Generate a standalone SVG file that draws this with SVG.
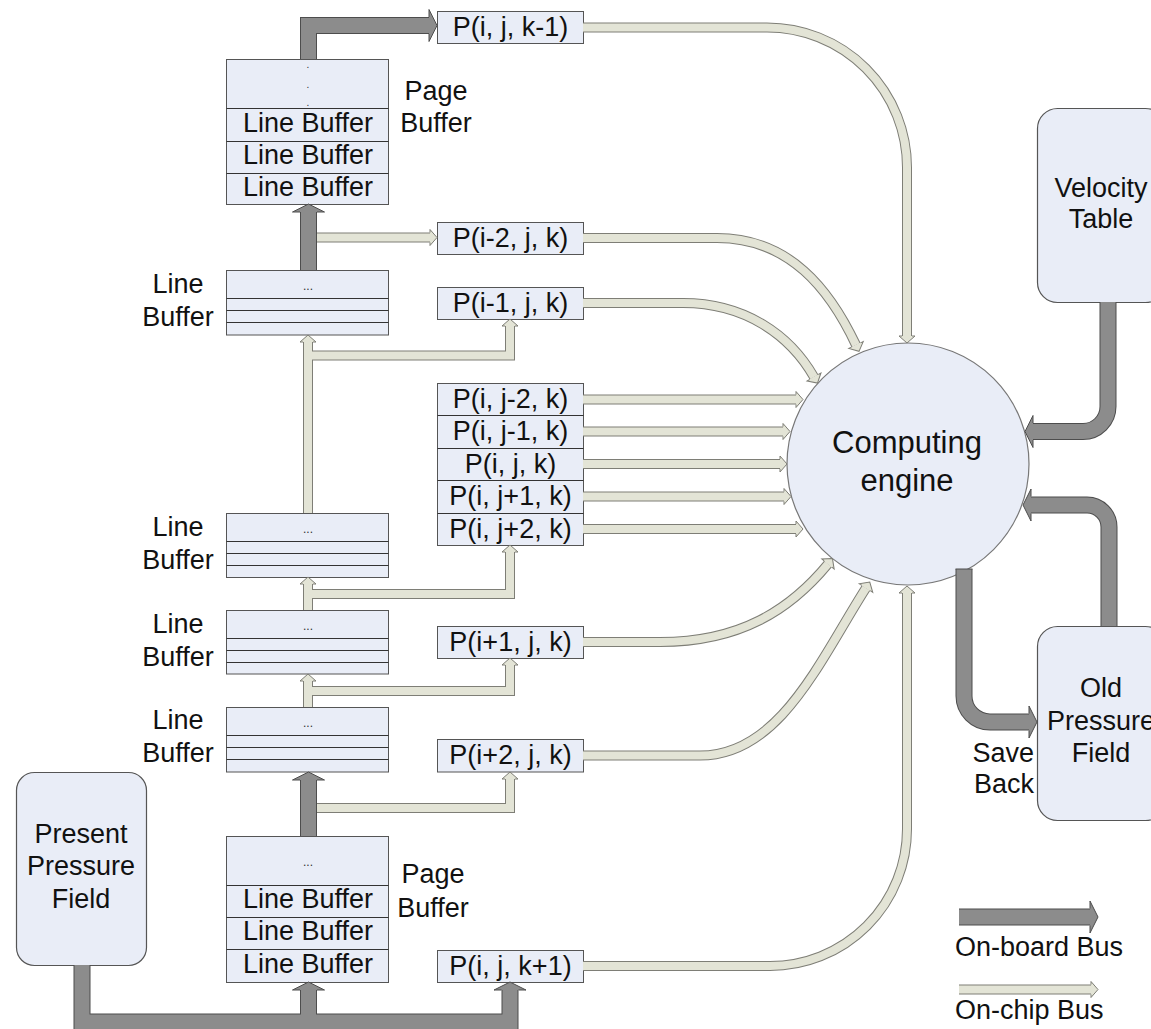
<svg xmlns="http://www.w3.org/2000/svg" xmlns:xlink="http://www.w3.org/1999/xlink" width="1151" height="1029" viewBox="0 0 1151 1029">
  <style>
    text { font-family: "Liberation Sans", Arial, sans-serif; font-size: 27px; fill: #111; }
    .mid { text-anchor: middle; }
    .end { text-anchor: end; }
    .big { font-size: 31px; }
    .tiny { font-size: 12px; fill: #333; }
    .dot { font-size: 10px; fill: #333; }
    .box { fill: #e9edf7; stroke: #555; stroke-width: 1; }
    .div { stroke: #333; stroke-width: 1; }
    .store { fill: #e9edf7; stroke: #555; stroke-width: 1.2; }
    .engine { fill: #e9edf7; stroke: #777; stroke-width: 1.2; }
    .chip-case { fill: none; stroke: #7e7e76; stroke-width: 10; }
    .chip-core { fill: none; stroke: #e3e4d6; stroke-width: 8; marker-end: url(#head-chip); }
    .board-case { fill: none; stroke: #4d4d4d; stroke-width: 17; }
    .board-core { fill: none; stroke: #8c8c8c; stroke-width: 15; marker-end: url(#head-board); }
  </style>
  <defs>
    <marker id="head-chip" markerUnits="userSpaceOnUse" orient="auto" overflow="visible" markerWidth="1" markerHeight="1">
      <path d="M0,-5 V-8 L7,0 L0,8 V5" fill="#e3e4d6" stroke="#7e7e76" stroke-width="1"/>
    </marker>
    <marker id="head-board" markerUnits="userSpaceOnUse" orient="auto" overflow="visible" markerWidth="1" markerHeight="1">
      <path d="M0,-8.5 V-16 L8,0 L0,16 V8.5" fill="#8c8c8c" stroke="#4d4d4d" stroke-width="1"/>
    </marker>
    <!-- on-chip bus routes -->
    <path id="c-k1" d="M583,27.5 H767 A140,140 0 0 1 907,167.5 V336"/>
    <path id="c-im2a" d="M308,237.5 H430"/>
    <path id="c-im2" d="M583,238 H717 C790,238 830,290 856,345"/>
    <path id="c-im1" d="M583,303 H683 C745,303 790,335 814,377"/>
    <path id="c-jm2" d="M583,399.5 H796"/>
    <path id="c-jm1" d="M583,431.5 H783"/>
    <path id="c-j0" d="M583,464 H780"/>
    <path id="c-jp1" d="M583,496.5 H784"/>
    <path id="c-jp2" d="M583,529 H796"/>
    <path id="c-ip1" d="M583,642 H660 C740,642 790,610 828,564"/>
    <path id="c-ip2" d="M583,755.5 H700 C780,755.5 820,660 866,588"/>
    <path id="c-kp1" d="M583,966 H770 A137,137 0 0 0 907,829 V593"/>
    <path id="c-up1" d="M308,513 V342"/>
    <path id="c-br1" d="M308,355.5 H510 V326"/>
    <path id="c-up2" d="M308,610 V584"/>
    <path id="c-br2" d="M308,594 H510 V552"/>
    <path id="c-up3" d="M308,707 V681"/>
    <path id="c-br3" d="M308,691 H510 V665"/>
    <path id="c-br4" d="M308,808 H510 V779"/>
    <!-- on-board bus routes -->
    <path id="b-top" d="M308.5,59 V25.5 H429"/>
    <path id="b-pg" d="M308.5,270 V212"/>
    <path id="b-lb" d="M308.5,836 V780"/>
    <path id="b-main" d="M82,965 V1022 H510 V990"/>
    <path id="b-main2" d="M308.5,1022 V990"/>
    <path id="b-vel" d="M1108,302 V406.5 A25,25 0 0 1 1083,431.5 H1033"/>
    <path id="b-old" d="M1109,626 V527 A22,22 0 0 0 1087,505 H1031"/>
    <path id="b-save" d="M964,569 V696 A26,26 0 0 0 990,722 H1029"/>
  </defs>

  <rect width="1151" height="1029" fill="#fff"/>

  <!-- upper page buffer -->
  <g id="page-buffer-top">
    <rect class="box" x="226.5" y="59.5" width="162" height="145"/>
    <line class="div" x1="226.5" y1="108.5" x2="388.5" y2="108.5"/>
    <line class="div" x1="226.5" y1="141.5" x2="388.5" y2="141.5"/>
    <line class="div" x1="226.5" y1="173.5" x2="388.5" y2="173.5"/>
    <text class="dot mid" x="308" y="68">.</text>
    <text class="dot mid" x="308" y="88">.</text>
    <text class="dot mid" x="308" y="106">.</text>
    <text class="mid" x="308" y="132">Line Buffer</text>
    <text class="mid" x="308" y="164">Line Buffer</text>
    <text class="mid" x="308" y="196">Line Buffer</text>
    <text class="mid" x="436" y="100">Page</text>
    <text class="mid" x="436" y="132">Buffer</text>
  </g>

  <!-- line buffers -->
  <g id="line-buffer-1">
    <rect class="box" x="226.5" y="270.5" width="162" height="64.5"/>
    <line class="div" x1="226.5" y1="298.5" x2="388.5" y2="298.5"/>
    <line class="div" x1="226.5" y1="310.5" x2="388.5" y2="310.5"/>
    <line class="div" x1="226.5" y1="322.5" x2="388.5" y2="322.5"/>
    <text class="tiny mid" x="308" y="290">...</text>
    <text class="mid" x="178" y="293">Line</text>
    <text class="mid" x="178" y="326">Buffer</text>
  </g>
  <g id="line-buffer-2">
    <rect class="box" x="226.5" y="513.5" width="162" height="64"/>
    <line class="div" x1="226.5" y1="541.5" x2="388.5" y2="541.5"/>
    <line class="div" x1="226.5" y1="553.5" x2="388.5" y2="553.5"/>
    <line class="div" x1="226.5" y1="565.5" x2="388.5" y2="565.5"/>
    <text class="tiny mid" x="308" y="533">...</text>
    <text class="mid" x="178" y="536">Line</text>
    <text class="mid" x="178" y="569">Buffer</text>
  </g>
  <g id="line-buffer-3">
    <rect class="box" x="226.5" y="610.5" width="162" height="63.5"/>
    <line class="div" x1="226.5" y1="638.5" x2="388.5" y2="638.5"/>
    <line class="div" x1="226.5" y1="650.5" x2="388.5" y2="650.5"/>
    <line class="div" x1="226.5" y1="662.5" x2="388.5" y2="662.5"/>
    <text class="tiny mid" x="308" y="630">...</text>
    <text class="mid" x="178" y="633">Line</text>
    <text class="mid" x="178" y="666">Buffer</text>
  </g>
  <g id="line-buffer-4">
    <rect class="box" x="226.5" y="707.5" width="162" height="64.5"/>
    <line class="div" x1="226.5" y1="735.5" x2="388.5" y2="735.5"/>
    <line class="div" x1="226.5" y1="747.5" x2="388.5" y2="747.5"/>
    <line class="div" x1="226.5" y1="759.5" x2="388.5" y2="759.5"/>
    <text class="tiny mid" x="308" y="727">...</text>
    <text class="mid" x="178" y="729">Line</text>
    <text class="mid" x="178" y="762">Buffer</text>
  </g>

  <!-- lower page buffer -->
  <g id="page-buffer-bottom">
    <rect class="box" x="226.5" y="836.5" width="162" height="146"/>
    <line class="div" x1="226.5" y1="885.5" x2="388.5" y2="885.5"/>
    <line class="div" x1="226.5" y1="917.5" x2="388.5" y2="917.5"/>
    <line class="div" x1="226.5" y1="949.5" x2="388.5" y2="949.5"/>
    <text class="tiny mid" x="308" y="866">...</text>
    <text class="mid" x="308" y="908">Line Buffer</text>
    <text class="mid" x="308" y="940">Line Buffer</text>
    <text class="mid" x="308" y="973">Line Buffer</text>
    <text class="mid" x="433" y="883">Page</text>
    <text class="mid" x="433" y="917">Buffer</text>
  </g>

  <!-- stencil operand registers -->
  <g id="p-k-minus-1">
    <rect class="box" x="437.5" y="11.5" width="146" height="32"/>
    <text class="mid" x="510.5" y="35.5">P(i, j, k-1)</text>
  </g>
  <g id="p-i-minus-2">
    <rect class="box" x="437.5" y="222.5" width="146" height="32"/>
    <text class="mid" x="510.5" y="246.5">P(i-2, j, k)</text>
  </g>
  <g id="p-i-minus-1">
    <rect class="box" x="437.5" y="287.5" width="146" height="32"/>
    <text class="mid" x="510.5" y="311.5">P(i-1, j, k)</text>
  </g>
  <g id="p-j-stack">
    <rect class="box" x="437.5" y="383.5" width="146" height="162"/>
    <line class="div" x1="437.5" y1="415.5" x2="583.5" y2="415.5"/>
    <line class="div" x1="437.5" y1="448.5" x2="583.5" y2="448.5"/>
    <line class="div" x1="437.5" y1="480.5" x2="583.5" y2="480.5"/>
    <line class="div" x1="437.5" y1="513.5" x2="583.5" y2="513.5"/>
    <text class="mid" x="510.5" y="408">P(i, j-2, k)</text>
    <text class="mid" x="510.5" y="440">P(i, j-1, k)</text>
    <text class="mid" x="510.5" y="473">P(i, j, k)</text>
    <text class="mid" x="510.5" y="505">P(i, j+1, k)</text>
    <text class="mid" x="510.5" y="538">P(i, j+2, k)</text>
  </g>
  <g id="p-i-plus-1">
    <rect class="box" x="437.5" y="626.5" width="146" height="32"/>
    <text class="mid" x="510.5" y="650.5">P(i+1, j, k)</text>
  </g>
  <g id="p-i-plus-2">
    <rect class="box" x="437.5" y="739.5" width="146" height="32.5"/>
    <text class="mid" x="510.5" y="763.5">P(i+2, j, k)</text>
  </g>
  <g id="p-k-plus-1">
    <rect class="box" x="437.5" y="950.5" width="146" height="32"/>
    <text class="mid" x="510.5" y="974.5">P(i, j, k+1)</text>
  </g>

  <!-- memories -->
  <g id="present-pressure-field">
    <rect class="store" x="16.5" y="772.5" width="130" height="193" rx="18" ry="18"/>
    <text class="mid" x="81" y="843">Present</text>
    <text class="mid" x="81" y="875">Pressure</text>
    <text class="mid" x="81" y="908">Field</text>
  </g>
  <g id="velocity-table">
    <rect class="store" x="1037.5" y="108.5" width="128" height="194" rx="20" ry="20"/>
    <text class="mid" x="1101" y="197">Velocity</text>
    <text class="mid" x="1101" y="228">Table</text>
  </g>
  <g id="old-pressure-field">
    <rect class="store" x="1037.5" y="626.5" width="128" height="194" rx="20" ry="20"/>
    <text class="mid" x="1101" y="697">Old</text>
    <text class="mid" x="1101" y="730">Pressure</text>
    <text class="mid" x="1101" y="762">Field</text>
  </g>

  <!-- computing engine -->
  <g id="computing-engine">
    <circle class="engine" cx="908" cy="464" r="121"/>
    <text class="big mid" x="907" y="453">Computing</text>
    <text class="big mid" x="907" y="491">engine</text>
  </g>

  <!-- buses -->
  <g id="connectors">
    <g class="chip-case">
      <use xlink:href="#c-k1"/><use xlink:href="#c-im2a"/><use xlink:href="#c-im2"/><use xlink:href="#c-im1"/>
      <use xlink:href="#c-jm2"/><use xlink:href="#c-jm1"/><use xlink:href="#c-j0"/><use xlink:href="#c-jp1"/><use xlink:href="#c-jp2"/>
      <use xlink:href="#c-ip1"/><use xlink:href="#c-ip2"/><use xlink:href="#c-kp1"/>
      <use xlink:href="#c-up1"/><use xlink:href="#c-br1"/><use xlink:href="#c-up2"/><use xlink:href="#c-br2"/>
      <use xlink:href="#c-up3"/><use xlink:href="#c-br3"/><use xlink:href="#c-br4"/>
    </g>
    <g class="chip-core">
      <use xlink:href="#c-k1"/><use xlink:href="#c-im2a"/><use xlink:href="#c-im2"/><use xlink:href="#c-im1"/>
      <use xlink:href="#c-jm2"/><use xlink:href="#c-jm1"/><use xlink:href="#c-j0"/><use xlink:href="#c-jp1"/><use xlink:href="#c-jp2"/>
      <use xlink:href="#c-ip1"/><use xlink:href="#c-ip2"/><use xlink:href="#c-kp1"/>
      <use xlink:href="#c-up1"/><use xlink:href="#c-br1"/><use xlink:href="#c-up2"/><use xlink:href="#c-br2"/>
      <use xlink:href="#c-up3"/><use xlink:href="#c-br3"/><use xlink:href="#c-br4"/>
    </g>
    <g class="board-case">
      <use xlink:href="#b-top"/><use xlink:href="#b-pg"/><use xlink:href="#b-lb"/>
      <use xlink:href="#b-main"/><use xlink:href="#b-main2"/>
      <use xlink:href="#b-vel"/><use xlink:href="#b-old"/><use xlink:href="#b-save"/>
    </g>
    <g class="board-core">
      <use xlink:href="#b-top"/><use xlink:href="#b-pg"/><use xlink:href="#b-lb"/>
      <use xlink:href="#b-main"/><use xlink:href="#b-main2"/>
      <use xlink:href="#b-vel"/><use xlink:href="#b-old"/><use xlink:href="#b-save"/>
    </g>
    <line x1="955.5" y1="569" x2="972.5" y2="569" stroke="#4d4d4d" stroke-width="1"/>
  </g>

  <g id="save-back-label">
    <text class="end" x="1034" y="762">Save</text>
    <text class="end" x="1034" y="793">Back</text>
  </g>

  <!-- legend -->
  <g id="legend">
    <path class="board-case" d="M959,917 H1090"/>
    <path class="board-core" d="M959,917 H1090"/>
    <text x="955" y="956">On-board Bus</text>
    <path class="chip-case" d="M959,989.5 H1091"/>
    <path class="chip-core" d="M959,989.5 H1091"/>
    <text x="955" y="1019">On-chip Bus</text>
  </g>
</svg>
